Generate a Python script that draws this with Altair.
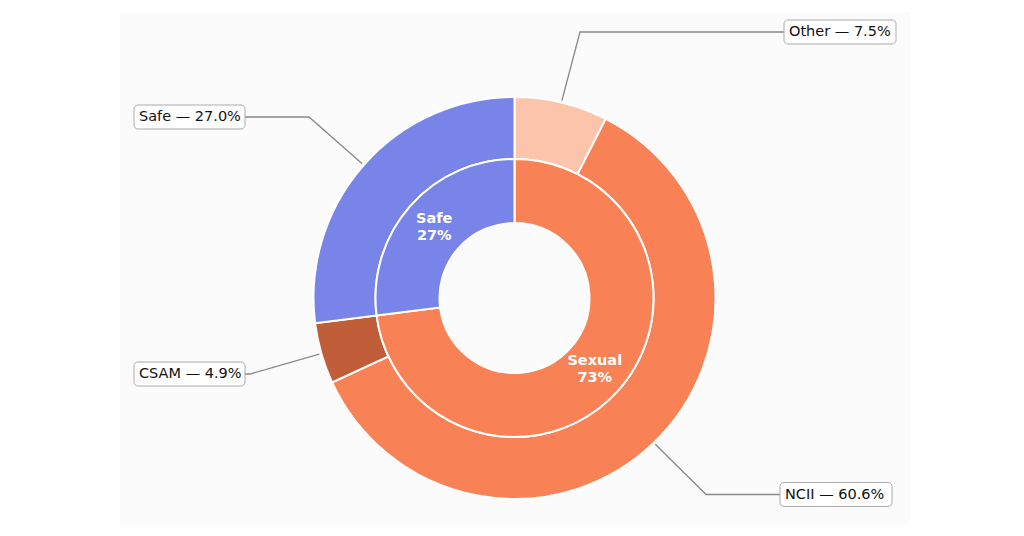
import math
import altair as alt
import pandas as pd

# ---- data ----
outer_labels = ["Other", "NCII", "CSAM", "Safe"]
outer_values = [7.5, 60.6, 4.9, 27.0]
outer_colors = ["#FCC4AB", "#F88255", "#C05E3A", "#7884E8"]

inner_labels = ["Sexual", "Safe"]
inner_values = [73.0, 27.0]
inner_colors = ["#F88255", "#7884E8"]

# ---- layout (page pixels) ----
W, H = 790, 514
OX, OY = 120, 12
CX, CY = 514.5 - OX, 298 - OY
R_OUT, R_MID, R_IN = 201, 139, 75
R_TXT = 107
R_ANCHOR = 203

label_box_left = [784, 780, 134, 134]
label_box_width = [112, 112, 111, 111]
label_box_yc = [32, 494.5, 374, 117]
label_elbow_x = [580, 706, 250, 309]
BOX_H = 24

outer = pd.DataFrame({
    "label": outer_labels,
    "value": outer_values,
    "color": outer_colors,
    "idx": list(range(len(outer_labels))),
})
inner = pd.DataFrame({
    "label": inner_labels,
    "value": inner_values,
    "color": inner_colors,
    "idx": list(range(len(inner_labels))),
    "text": [f"{l}\n{v:.0f}%" for l, v in zip(inner_labels, inner_values)],
})

# anchors at middle of outer wedges
total = sum(outer_values)
cum = 0.0
anchors = []
for v in outer_values:
    mid = (cum + v / 2) / total * 2 * math.pi
    anchors.append((CX + R_ANCHOR * math.sin(mid), CY - R_ANCHOR * math.cos(mid)))
    cum += v

boxes = []
lines = []
for i, (l, v) in enumerate(zip(outer_labels, outer_values)):
    x0 = label_box_left[i] - OX
    x1 = x0 + label_box_width[i]
    yc = label_box_yc[i] - OY
    boxes.append({"label": l, "x": x0, "x2": x1, "y": yc - BOX_H / 2, "y2": yc + BOX_H / 2,
                  "tx": x0 + 5, "ty": yc, "text": f"{l} — {v:.1f}%"})
    right_side = x0 > CX
    edge = x0 if right_side else x1
    pts = [(edge, yc), (label_elbow_x[i] - OX, yc), anchors[i]]
    for k, (px, py) in enumerate(pts):
        lines.append({"label": l, "pt": k, "x": px, "y": py})

boxes = pd.DataFrame(boxes)
lines = pd.DataFrame(lines)

xs = alt.Scale(domain=[0, W], nice=False, zero=False)
ys = alt.Scale(domain=[0, H], nice=False, zero=False, reverse=True)

outer_arc = alt.Chart(outer).mark_arc(
    innerRadius=R_MID, outerRadius=R_OUT, stroke="white", strokeWidth=2
).encode(
    theta=alt.Theta("value:Q", stack=True),
    color=alt.Color("color:N", scale=None),
    order=alt.Order("idx:Q"),
    x=alt.value(CX), y=alt.value(CY),
)

inner_arc = alt.Chart(inner).mark_arc(
    innerRadius=R_IN, outerRadius=R_MID, stroke="white", strokeWidth=2
).encode(
    theta=alt.Theta("value:Q", stack=True),
    color=alt.Color("color:N", scale=None),
    order=alt.Order("idx:Q"),
    x=alt.value(CX), y=alt.value(CY),
)

inner_text = alt.Chart(inner).mark_text(
    radius=R_TXT, fontSize=14.5, fontWeight="bold", color="white",
    lineBreak="\n", lineHeight=17, font="DejaVu Sans", baseline="middle", dy=-8,
).encode(
    theta=alt.Theta("value:Q", stack=True),
    order=alt.Order("idx:Q"),
    text="text:N",
    x=alt.value(CX), y=alt.value(CY),
)

leader = alt.Chart(lines).mark_line(color="#888888", strokeWidth=1.3).encode(
    x=alt.X("x:Q", scale=xs, axis=None),
    y=alt.Y("y:Q", scale=ys, axis=None),
    detail="label:N",
    order="pt:Q",
)

box = alt.Chart(boxes).mark_rect(
    cornerRadius=4, fill="white", stroke="#aaaaaa", strokeWidth=1
).encode(
    x=alt.X("x:Q", scale=xs, axis=None), x2="x2:Q",
    y=alt.Y("y:Q", scale=ys, axis=None), y2="y2:Q",
)

box_text = alt.Chart(boxes).mark_text(
    align="left", baseline="middle", fontSize=14.5, font="DejaVu Sans", color="#111111"
).encode(
    x=alt.X("tx:Q", scale=xs, axis=None),
    y=alt.Y("ty:Q", scale=ys, axis=None),
    text="text:N",
)

chart = alt.layer(outer_arc, inner_arc, inner_text, leader, box, box_text).properties(
    width=W, height=H,
    padding={"left": OX - 8, "top": OY - 8, "right": 1008 - (OX - 8) - W, "bottom": 2},
    background="white",
).configure_view(fill="#fbfbfb", strokeWidth=0)

chart.save("out.html", embed_options={"renderer": "svg", "actions": False})
